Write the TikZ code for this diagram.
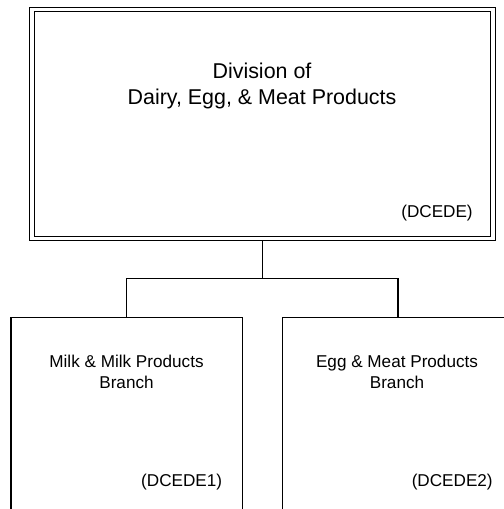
\documentclass[tikz,border=0pt]{standalone}
\usepackage{fontspec}
\setmainfont{Liberation Sans}
\begin{document}
\begin{tikzpicture}[x=1bp,y=-1bp,line width=1.2bp,
  box/.style={draw=black,rectangle,inner sep=0pt,outer sep=0pt,anchor=north west},
  ttl/.style={font=\fontsize{21.5}{25.8}\selectfont,anchor=base,inner sep=0pt},
  lbl/.style={font=\fontsize{17.2}{20.7}\selectfont,anchor=base,inner sep=0pt},
  code/.style={font=\fontsize{17.2}{20.7}\selectfont,anchor=base east,inner sep=0pt}]
\useasboundingbox (0,0) rectangle (504,509);
\clip (0,0) rectangle (504,509);
% boxes
\node[box,double,double distance=3.1bp,minimum width=461bp,minimum height=228.6bp] (div) at (32,9.75) {};
\node[box,minimum width=231.5bp,minimum height=228bp] (milk) at (11,317.5) {};
\node[box,minimum width=231.5bp,minimum height=228bp] (egg) at (282.3,317.5) {};
% texts
\node[ttl] (t1) at (262,79) {Division of};
\node[ttl] (t2) at (262,105) {Dairy, Egg, \& Meat Products};
\node[code] (c0) at (473.3,217) {(DCEDE)};
\node[lbl] (m1) at (126.5,367.3) {Milk \& Milk Products};
\node[lbl] (m2) at (126.5,388) {Branch};
\node[code] (c1) at (222.7,486.5) {(DCEDE1)};
\node[lbl] (e1) at (397,367.3) {Egg \& Meat Products};
\node[lbl] (e2) at (397,388) {Branch};
\node[code] (c2) at (493.3,486.5) {(DCEDE2)};
% connectors
\coordinate (jy) at (0,278.5);
\coordinate (j) at (div.south |- jy);
\draw ([yshift=-2.75bp]div.south) -- (j);
\draw (milk.north) |- (j) -| (egg.north);
\end{tikzpicture}
\end{document}
